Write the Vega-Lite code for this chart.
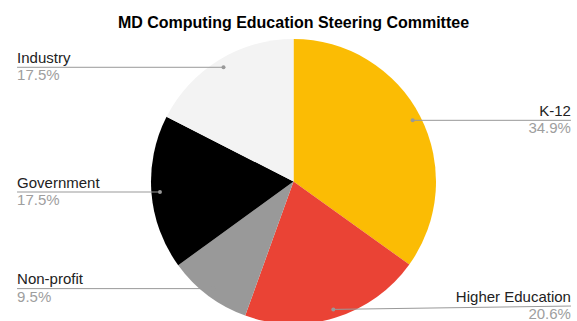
{
  "$schema": "https://vega.github.io/schema/vega-lite/v6.json",
  "width": 567,
  "height": 279,
  "autosize": {"type": "none"},
  "padding": {"left": 10, "top": 42, "right": 0, "bottom": 0},
  "background": "white",
  "view": {"stroke": null},
  "title": {
    "text": "MD Computing Education Steering Committee",
    "font": "Liberation Sans",
    "fontSize": 16,
    "fontWeight": "bold",
    "color": "#000000",
    "anchor": "middle",
    "frame": "group",
    "baseline": "alphabetic",
    "offset": -5
  },
  "data": {
    "values": [
      {"category": "K-12", "value": 34.9},
      {"category": "Higher Education", "value": 20.6},
      {"category": "Non-profit", "value": 9.5},
      {"category": "Government", "value": 17.5},
      {"category": "Industry", "value": 17.5}
    ]
  },
  "transform": [
    {"window": [{"op": "sum", "field": "value", "as": "cum"}], "frame": [null, 0]},
    {"calculate": "datum.cum - datum.value", "as": "start"},
    {"calculate": "2 * PI * (datum.cum - datum.value / 2) / 100", "as": "ang"},
    {"calculate": "0.94 * sin(datum.ang)", "as": "px"},
    {"calculate": "0.94 * cos(datum.ang)", "as": "py"},
    {"calculate": "max(datum.py, -0.874)", "as": "ly"},
    {"calculate": "datum.px > 0 ? 1.947 : -1.94", "as": "edge"},
    {"calculate": "format(datum.value, '.1f') + '%'", "as": "pct"}
  ],
  "layer": [
    {
      "mark": {"type": "arc", "outerRadius": 142.5},
      "encoding": {
        "theta": {"field": "start", "type": "quantitative", "scale": {"domain": [0, 100]}},
        "theta2": {"field": "cum"},
        "color": {
          "field": "category",
          "type": "nominal",
          "scale": {
            "domain": ["K-12", "Higher Education", "Non-profit", "Government", "Industry"],
            "range": ["#FBBC04", "#EA4335", "#999999", "#000000", "#F3F3F3"]
          },
          "legend": null
        }
      }
    },
    {
      "mark": {"type": "rule", "color": "#999999", "strokeWidth": 1},
      "encoding": {
        "x": {"field": "px", "type": "quantitative", "scale": {"domain": [-1.98947, 1.98947], "nice": false, "zero": false}, "axis": null},
        "y": {"field": "py", "type": "quantitative", "scale": {"domain": [-0.97895, 0.97895], "nice": false, "zero": false}, "axis": null},
        "x2": {"field": "edge"},
        "y2": {"field": "ly"}
      }
    },
    {
      "mark": {"type": "point", "filled": true, "color": "#999999", "size": 16, "opacity": 1},
      "encoding": {
        "x": {"field": "px", "type": "quantitative"},
        "y": {"field": "py", "type": "quantitative"}
      }
    },
    {
      "mark": {
        "type": "text",
        "align": {"expr": "datum.edge > 0 ? 'right' : 'left'"},
        "baseline": "alphabetic",
        "dy": -4.5,
        "fontSize": 15,
        "font": "Liberation Sans",
        "color": "#222222"
      },
      "encoding": {
        "x": {"field": "edge", "type": "quantitative"},
        "y": {"field": "ly", "type": "quantitative"},
        "text": {"field": "category"}
      }
    },
    {
      "mark": {
        "type": "text",
        "align": {"expr": "datum.edge > 0 ? 'right' : 'left'"},
        "baseline": "alphabetic",
        "dy": 13,
        "fontSize": 15,
        "font": "Liberation Sans",
        "color": "#9E9E9E"
      },
      "encoding": {
        "x": {"field": "edge", "type": "quantitative"},
        "y": {"field": "ly", "type": "quantitative"},
        "text": {"field": "pct"}
      }
    }
  ]
}
